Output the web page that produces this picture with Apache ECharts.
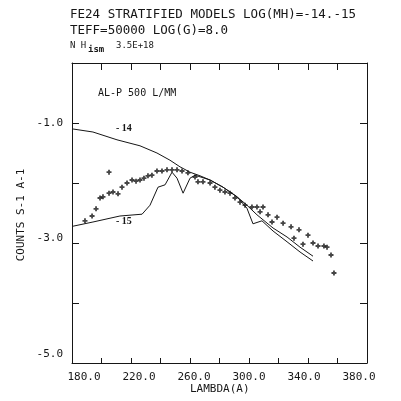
<!DOCTYPE html>
<html>
<head>
<meta charset="utf-8">
<script src="https://cdn.jsdelivr.net/npm/echarts@6/dist/echarts.min.js"></script>
<style>
  html, body { margin: 0; padding: 0; background: #fff; }
  #main { width: 401px; height: 401px; }
</style>
</head>
<body>
<div id="main"></div>
<script>
// model LOG(MH) = -14
const model14 = [
  [180.7, -1.10], [194.2, -1.15], [210.5, -1.28], [226.1, -1.38], [237.6, -1.50],
  [246.4, -1.62], [253.2, -1.73], [260.0, -1.82], [266.8, -1.88], [273.6, -1.95],
  [282.4, -2.07], [291.9, -2.23], [298.6, -2.37], [305.4, -2.53], [316.3, -2.75],
  [325.8, -2.90], [334.6, -3.07], [343.4, -3.22],
];

// model LOG(MH) = -15
const model15 = [
  [180.7, -2.72], [194.2, -2.65], [212.5, -2.55], [227.5, -2.52], [232.9, -2.37],
  [238.3, -2.07], [243.1, -2.03], [247.8, -1.82], [251.2, -1.92], [255.3, -2.17],
  [260.0, -1.92], [263.4, -1.87], [273.6, -1.95], [282.4, -2.07], [291.9, -2.23],
  [298.6, -2.42], [302.7, -2.68], [308.8, -2.63], [316.3, -2.80], [325.8, -2.98],
  [334.6, -3.15], [343.4, -3.30],
];

// observed counts
const observed = [
  [188.8, -2.63], [193.6, -2.55], [196.3, -2.43], [199.0, -2.25], [201.0, -2.23],
  [205.1, -2.17], [205.1, -1.82], [207.8, -2.15], [211.2, -2.18], [213.9, -2.07],
  [217.3, -2.00], [220.7, -1.95], [223.4, -1.97], [226.1, -1.95], [228.8, -1.92],
  [231.5, -1.88], [234.2, -1.87], [237.6, -1.80], [241.0, -1.80], [244.4, -1.78],
  [247.8, -1.78], [251.2, -1.78], [254.6, -1.80], [258.6, -1.83], [263.4, -1.90],
  [265.4, -1.98], [268.8, -1.98], [273.6, -2.00], [276.9, -2.07], [280.3, -2.12],
  [283.7, -2.15], [287.1, -2.17], [290.5, -2.25], [293.9, -2.32], [297.3, -2.37],
  [302.0, -2.40], [305.4, -2.40], [309.5, -2.40], [307.5, -2.48], [312.9, -2.53],
  [319.0, -2.57], [315.6, -2.65], [323.1, -2.67], [328.5, -2.73], [333.9, -2.78],
  [330.5, -2.92], [340.0, -2.87], [336.6, -3.02], [343.4, -3.00], [346.8, -3.05],
  [350.8, -3.05], [352.9, -3.07], [355.6, -3.20], [357.6, -3.50],
];

const xLabelled = [180, 220, 260, 300, 340, 380];
const yLabelled = [-1, -3, -5];

const ink = "#161616";
const mono = "DejaVu Sans Mono";
const plus = "path://M1.6,0H3.4V1.6H5V3.4H3.4V5H1.6V3.4H0V1.6H1.6Z";

// the plotter set its numbers a little off the ticks
const xShift = [12, 8, 4, 0, -4, -8];
const yShift = [0, 5, 9];

const xRich = {};
xShift.forEach((s, i) => {
  xRich[`x${i}`] = { padding: s >= 0 ? [0, 0, 0, 2 * s] : [0, -2 * s, 0, 0] };
});
const yRich = {};
yShift.forEach((s, i) => {
  yRich[`y${i}`] = { padding: [0, 0, 2 * s, 0] };
});

const axisX = (pos, labels, tickLen) => ({
  type: "value",
  position: pos,
  min: 180,
  max: 380,
  interval: 20,
  axisLine: { onZero: false, lineStyle: { color: ink, width: 1 } },
  axisTick: { inside: true, length: tickLen, lineStyle: { color: ink } },
  splitLine: { show: false },
  axisLabel: {
    show: labels,
    color: ink,
    fontFamily: mono,
    fontSize: 11,
    margin: 9,
    rich: xRich,
    formatter: (v) => {
      const i = xLabelled.indexOf(v);
      return i < 0 ? "" : `{x${i}|${v.toFixed(1)}}`;
    },
  },
});

const axisY = (pos, labels) => ({
  type: "value",
  position: pos,
  min: -5,
  max: 0,
  interval: 1,
  axisLine: { onZero: false, lineStyle: { color: ink, width: 1 } },
  axisTick: { inside: true, length: 7, lineStyle: { color: ink } },
  splitLine: { show: false },
  axisLabel: {
    show: labels,
    color: ink,
    fontFamily: mono,
    fontSize: 11,
    margin: 9,
    rich: yRich,
    formatter: (v) => {
      const i = yLabelled.indexOf(v);
      return i < 0 ? "" : `{y${i}|${v.toFixed(1)}}`;
    },
  },
});

const cfg = {
  animation: false,
  backgroundColor: "#fff",
  grid: { left: 72, right: 34, top: 63, bottom: 38 },
  xAxis: [axisX("bottom", true, 5), axisX("top", false, 7)],
  yAxis: [axisY("left", true), axisY("right", false)],
  graphic: [
    { type: "text", left: 70, top: 8, style: { text: "FE24 STRATIFIED MODELS LOG(MH)=-14.-15", fill: ink, font: `12.5px "${mono}"` } },
    { type: "text", left: 70, top: 24, style: { text: "TEFF=50000 LOG(G)=8.0", fill: ink, font: `12.5px "${mono}"` } },
    { type: "text", left: 70, top: 41, style: { text: "N H", fill: ink, font: `9px "${mono}"` } },
    { type: "text", left: 88, top: 45, style: { text: "ism", fill: ink, font: `bold 9px "${mono}"` } },
    { type: "text", left: 116, top: 41, style: { text: "3.5E+18", fill: ink, font: `9px "${mono}"` } },
    { type: "text", left: 98, top: 88, style: { text: "AL-P 500 L/MM", fill: ink, font: `10px "${mono}"` } },
    { type: "text", left: 116, top: 123, style: { text: "- 14", fill: ink, font: `bold 10px "Liberation Serif"` } },
    { type: "text", left: 116, top: 216, style: { text: "- 15", fill: ink, font: `bold 10px "Liberation Serif"` } },
    { type: "text", left: 190, top: 384, style: { text: "LAMBDA(A)", fill: ink, font: `11px "${mono}"` } },
    {
      type: "text", x: 21, y: 215, rotation: Math.PI / 2,
      style: { text: "COUNTS S-1 A-1", fill: ink, font: `11px "${mono}"`, align: "center", verticalAlign: "middle" },
    },
  ],
  series: [
    {
      name: "-14", type: "line", data: model14, symbol: "none",
      lineStyle: { color: ink, width: 1 },
    },
    {
      name: "-15", type: "line", data: model15, symbol: "none",
      lineStyle: { color: ink, width: 1 },
    },
    {
      name: "obs", type: "scatter", data: observed, symbol: plus, symbolSize: 5,
      itemStyle: { color: ink },
    },
  ],
};

const chart = echarts.init(document.getElementById("main"));
chart.setOption(cfg);
</script>
</body>
</html>
